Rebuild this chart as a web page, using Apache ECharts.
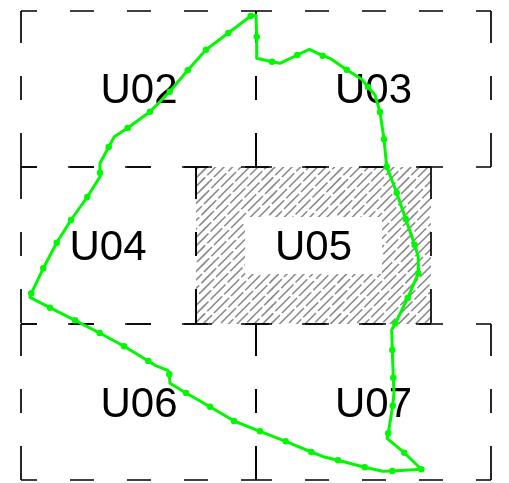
<!DOCTYPE html>
<html><head><meta charset="utf-8">
<style>html,body{margin:0;padding:0;background:#fff}#c{width:509px;height:483px}</style>
<script src="https://cdn.jsdelivr.net/npm/echarts@6/dist/echarts.min.js"></script>
</head><body><div id="c"></div>
<script>
// zones: name, x0, y0, x1, y1 in plan units
const zoneNames = ['U02','U03','U04','U05','U06','U07'];
const zoneX0 = [21,256,21,196,21,256];
const zoneY0 = [11,11,167,167,324,324];
const zoneX1 = [256,491,196,431,256,491];
const zoneY1 = [167,167,324,324,480,480];
const labelX = [139,373.5,108,313.5,139,373.5];
const labelY = [91.5,91.5,248.5,248.5,405.5,405.5];
const hatchOuter = [196,167,431,324];
const hatchInner = [245,217,382,274];
// boundary outline
const outlineX = [250.7,256,256.7,256.7,272,280,297.3,309.3,322.7,330,346.7,361.7,368,375,380,384,386.7,396.7,405.7,414.7,418.3,418.3,407.7,395.3,391.7,392.3,393.3,394,392.7,388.3,387,404.3,421.3,392.3,382.7,364.7,338,323.3,311.3,285.7,260,234,210,186,170,169.3,168.3,155,148.3,124,99.7,75,50,30,31.3,43.3,56.7,71,87.3,100,100,100,108.7,114.3,127.7,150,169.7,187.7,206,228.3,250.7];
const outlineY = [16,15,36.7,58.3,61.7,63.3,55,49.3,55.7,58.3,69.7,79.3,87,95,112,139.3,166.7,192.7,219,245,256.7,273.3,298,323.3,330,350,377.7,393,405.7,433.3,438.3,452.7,469.3,471,471.3,467.3,460.3,456.7,452,441.3,431.3,421,406.7,393,383.3,374.3,370.7,365.3,361,346.3,333,320.3,307.7,297.3,293.3,268.3,242.7,220,197,176.7,172.7,163.3,147,136.7,128,111.7,91.7,70.3,49.7,33,16];
// indices of outline vertices carrying a dot
const dotIndex = [0,2,4,6,8,10,12,14,15,16,17,18,19,21,22,23,25,26,28,29,31,32,33,35,36,38,39,40,41,42,43,45,48,49,50,51,52,54,55,56,57,58,60,62,64,65,66,67,68,69];

const H_DASH = [16,33,24,33,24,33,24,33,16,400];
const H_DASH_SHORT = [16,31,26,31,26,31,14,400];
const V_DASH = [32,33,24,33,34,400];

function makeHatch(){
  const W=68, cv=document.createElement('canvas');
  cv.width=W; cv.height=W;
  const g=cv.getContext('2d');
  g.strokeStyle='#8a8a8a'; g.lineWidth=1.6;
  const shifts=[0,20,7,27,13,32,3,23], Pd=34, dash=30;
  for(let k=0;k<8;k++){
    for(let m=-1;m<3;m++){
      const c=8.5*k+68*m;
      for(let d=-238;d<=238;d+=Pd){
        const a=d+shifts[k], b=a+dash;
        g.beginPath();
        g.moveTo((c+a)/2,(c-a)/2);
        g.lineTo((c+b)/2,(c-b)/2);
        g.stroke();
      }
    }
  }
  return cv;
}
const hatch=makeHatch();

const series=[];
series.push({type:'custom',silent:true,z:1,coordinateSystem:'cartesian2d',data:[[0]],
  renderItem:(p,api)=>{
    const a=api.coord([hatchOuter[0],hatchOuter[1]]),b=api.coord([hatchOuter[2],hatchOuter[3]]);
    const c=api.coord([hatchInner[0],hatchInner[1]]),d=api.coord([hatchInner[2],hatchInner[3]]);
    return {type:'group',children:[
      {type:'rect',shape:{x:a[0],y:a[1],width:b[0]-a[0],height:b[1]-a[1]},style:{fill:{image:hatch,repeat:'repeat'}}},
      {type:'rect',shape:{x:c[0],y:c[1],width:d[0]-c[0],height:d[1]-c[1]},style:{fill:'#fff'}}
    ]};
  }});
zoneNames.forEach((n,i)=>{
  const x0=zoneX0[i],x1=zoneX1[i],y0=zoneY0[i],y1=zoneY1[i];
  const hd=(x1-x0)<200?H_DASH_SHORT:H_DASH;
  [[[x0,y0],[x1,y0],hd],[[x0,y1],[x1,y1],hd],[[x0,y0],[x0,y1],V_DASH],[[x1,y0],[x1,y1],V_DASH]].forEach(s=>{
    series.push({type:'line',silent:true,z:3,symbol:'none',animation:false,data:[s[0],s[1]],
      lineStyle:{color:'#000',width:1.7,type:s[2],cap:'butt'}});
  });
});
series.push({type:'scatter',silent:true,z:4,symbolSize:0,animation:false,
  itemStyle:{opacity:1},
  data:zoneNames.map((n,i)=>({value:[labelX[i],labelY[i]],name:n})),
  label:{show:true,position:'inside',formatter:p=>p.name,fontFamily:'Liberation Sans',fontSize:42,color:'#000',opacity:1,align:'center',verticalAlign:'middle'}});
series.push({type:'line',silent:true,z:5,symbol:'none',animation:false,
  data:outlineX.map((x,i)=>[x,outlineY[i]]),
  lineStyle:{color:'#00f800',width:3,join:'round'}});
series.push({type:'scatter',silent:true,z:6,symbol:'circle',symbolSize:6.5,animation:false,
  data:dotIndex.map(i=>[outlineX[i],outlineY[i]]),
  itemStyle:{color:'#00f800',opacity:1}});

const chart=echarts.init(document.getElementById('c'),null,{renderer:'canvas'});
chart.setOption({animation:false,backgroundColor:'#fff',
  grid:{left:0,right:0,top:0,bottom:0},
  xAxis:{type:'value',min:0,max:509,show:false},
  yAxis:{type:'value',min:0,max:483,inverse:true,show:false},
  series});
</script></body></html>
